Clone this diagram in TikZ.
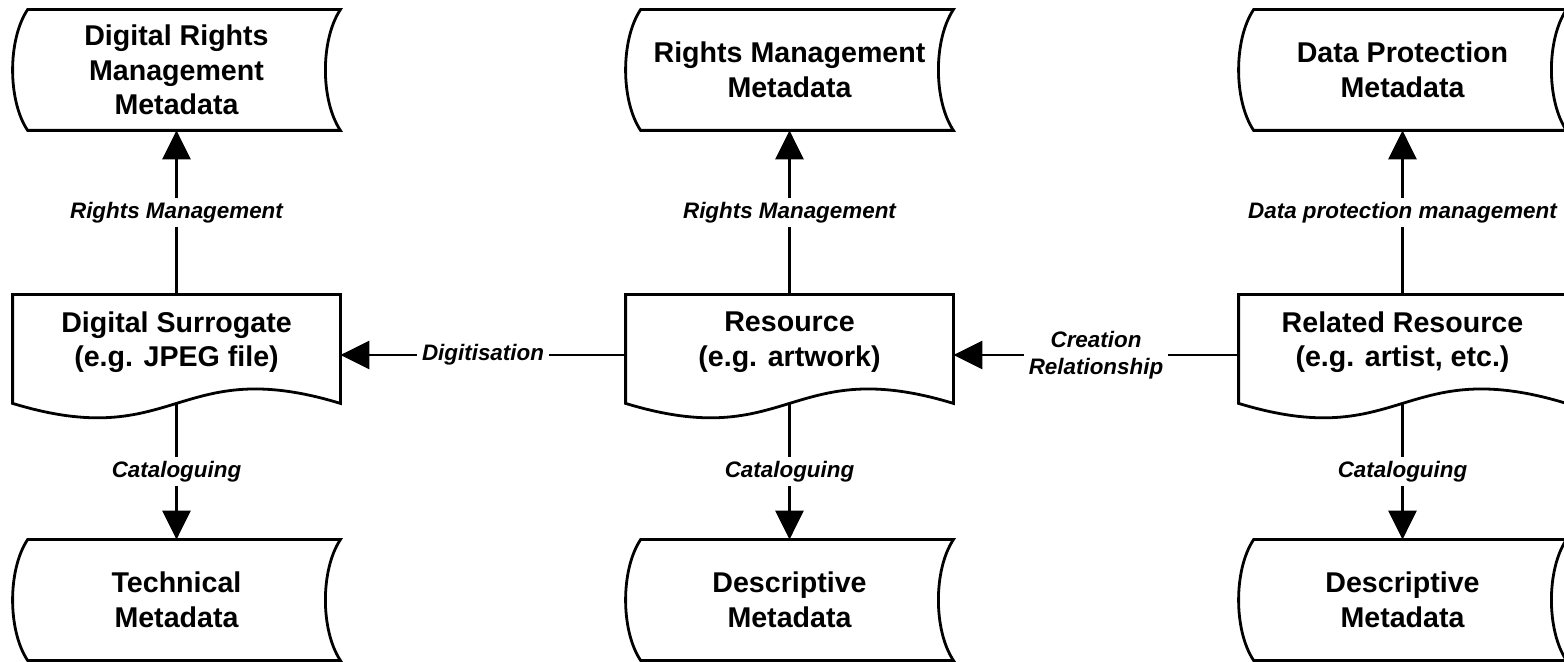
\documentclass[tikz,border=0pt]{standalone}
\usepackage{fontspec}
\setmainfont{Liberation Sans}
\usetikzlibrary{calc,arrows.meta}
\newcommand\storedshape[1]{%
  \draw[shapeline] ($(#1.north west)+(15,0)$) -- (#1.north east)
    .. controls ($(#1.north east)+(-20,30)$) and ($(#1.south east)+(-20,-30)$) .. (#1.south east)
    -- ($(#1.south west)+(15,0)$)
    .. controls ($(#1.south west)+(-5,-30)$) and ($(#1.north west)+(-5,30)$) .. cycle;}
\newcommand\docshape[1]{%
  \draw[shapeline] (#1.north west) -- (#1.north east) -- ($(#1.south east)+(0,-12)$)
    .. controls ($(#1.south)+(0,-62)$) and ($(#1.south)+(0,38)$) .. ($(#1.south west)+(0,-12)$)
    -- cycle;
  \coordinate (#1-w) at ($(#1.south)+(0,-12)$);}
\begin{document}
\begin{tikzpicture}[x=0.5pt,y=-0.5pt,
  box/.style={minimum width=163.5pt, minimum height=60pt, inner sep=0pt, draw=none},
  boxtext/.style={font=\fontsize{14.3}{17.3}\selectfont\bfseries, align=center},
  shapeline/.style={line width=1.4pt, line join=miter},
  arr/.style={line width=1.4pt, -{Triangle[length=14.5pt,width=14pt]}},
  lab/.style={font=\fontsize{11.2}{13.5}\selectfont\bfseries\itshape, fill=white, inner xsep=2.5pt, inner ysep=2pt, align=center}]
\useasboundingbox (0,0) rectangle (1564,662);
\clip (0,0) rectangle (1564,662);
% top row
\node[box,boxtext] (drm) at (176.5,70) {Digital Rights\\Management\\Metadata};
\node[box,boxtext] (rm) at (789.5,70) {Rights Management\\Metadata};
\node[box,boxtext] (dp) at (1402.5,70) {Data Protection\\Metadata};
% middle row
\node[box] (ds) at (176.5,355) {};
\node[boxtext] (ds-t) at (176.5,342) {Digital Surrogate\\(e.g. JPEG file)};
\node[box] (res) at (789.5,355) {};
\node[boxtext] (res-t) at (789.5,342) {Resource\\(e.g. artwork)};
\node[box] (rr) at (1402.5,355) {};
\node[boxtext] (rr-t) at (1402.5,342) {Related Resource\\(e.g. artist, etc.)};
% bottom row
\node[box,boxtext] (tm) at (176.5,600) {Technical\\Metadata};
\node[box,boxtext] (dm1) at (789.5,600) {Descriptive\\Metadata};
\node[box,boxtext] (dm2) at (1402.5,600) {Descriptive\\Metadata};
% shapes
\storedshape{drm}\storedshape{rm}\storedshape{dp}
\storedshape{tm}\storedshape{dm1}\storedshape{dm2}
\docshape{ds}\docshape{res}\docshape{rr}
% connectors
\draw[arr] (ds.north) -- node[lab]{Rights Management} (drm.south);
\draw[arr] (res.north) -- node[lab]{Rights Management} (rm.south);
\draw[arr] (rr.north) -- node[lab]{Data protection management} (dp.south);
\draw[arr] (ds-w) -- node[lab]{Cataloguing} (tm.north);
\draw[arr] (res-w) -- node[lab]{Cataloguing} (dm1.north);
\draw[arr] (rr-w) -- node[lab]{Cataloguing} (dm2.north);
\draw[arr] (res.west) -- node[lab]{Digitisation} (ds.east);
\draw[arr] (rr.west) -- node[lab]{Creation\\Relationship} (res.east);
\end{tikzpicture}
\end{document}
